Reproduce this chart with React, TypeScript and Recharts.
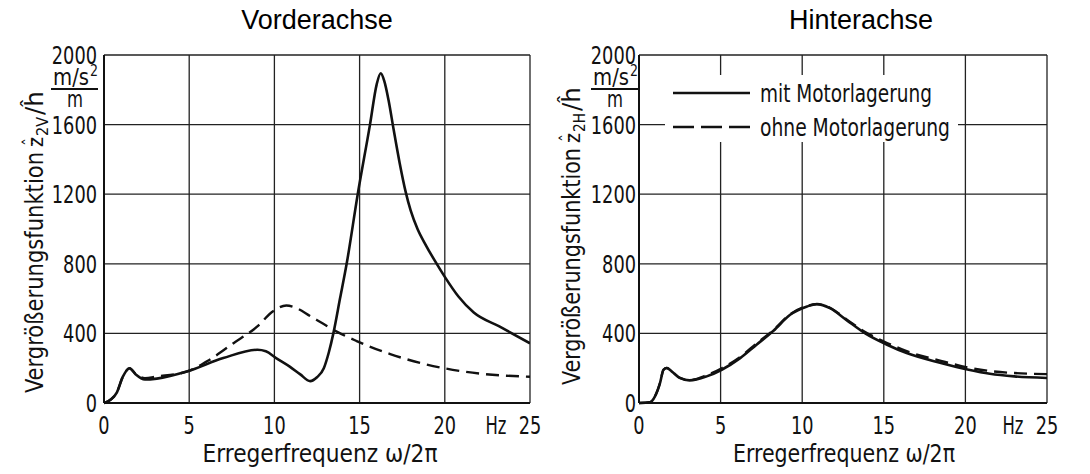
import React from 'react';
import { LineChart, Line, XAxis, YAxis, CartesianGrid, Legend } from 'recharts';

const FONT = "'DejaVu Sans Condensed', 'DejaVu Sans', sans-serif";
const TITLE_FONT = "'Liberation Sans', Arial, sans-serif";
const DIGIT_W = 11.3;

const xTicks = [0, 5, 10, 15, 20, 25];
const yTicks = [0, 400, 800, 1200, 1600, 2000];
const panelTitles = ['Vorderachse', 'Hinterachse'];
const seriesNames = ['mit Motorlagerung', 'ohne Motorlagerung'];

// Vorderachse, mit Motorlagerung
const vorderMitHz = [0, 0.4, 0.75, 1.1, 1.5, 1.85, 2.4, 3.1, 4.9, 7.0, 9.0, 9.5, 10.1, 10.9, 11.5, 12.1, 12.5, 12.9, 13.2, 13.46, 13.85, 14.24, 14.89, 15.61, 16.0, 16.24, 16.45, 16.7, 17.0, 17.35, 17.7, 18.0, 18.4, 18.9, 19.43, 20.0, 20.8, 21.7, 23.2, 25];
const vorderMitWert = [0, 20, 60, 150, 200, 165, 135, 140, 182, 258, 306, 297, 258, 209, 166, 126, 148, 200, 293, 400, 600, 800, 1200, 1600, 1830, 1895, 1850, 1740, 1570, 1380, 1215, 1105, 1000, 905, 815, 725, 612, 520, 440, 343];

// Vorderachse, ohne Motorlagerung
const vorderOhneHz = [0, 0.4, 0.75, 1.1, 1.5, 1.85, 2.4, 3.1, 4.9, 6.2, 7.6, 9.0, 9.9, 10.7, 11.3, 12.09, 12.87, 13.66, 14.83, 16.8, 17.57, 20.0, 22.25, 25];
const vorderOhneWert = [0, 20, 60, 150, 200, 168, 143, 152, 182, 249, 344, 440, 526, 560, 545, 500, 455, 410, 356, 281, 257, 199, 167, 151];

// Hinterachse, mit Motorlagerung
const hinterMitHz = [0, 0.67, 0.98, 1.29, 1.5, 1.7, 2.0, 2.5, 3.1, 4.15, 5.07, 6.2, 7.2, 8.24, 9.26, 10.3, 10.9, 11.7, 12.7, 13.86, 15.2, 16.4, 18.5, 20.2, 21.5, 23.0, 25];
const hinterMitWert = [0, 4, 38, 115, 191, 201, 182, 144, 130, 153, 191, 258, 335, 415, 507, 555, 568, 545, 478, 400, 335, 287, 230, 191, 168, 153, 144];

// Hinterachse, ohne Motorlagerung
const hinterOhneHz = [0, 0.67, 0.98, 1.29, 1.5, 1.7, 2.0, 2.5, 3.1, 4.15, 5.07, 6.2, 7.2, 8.24, 9.26, 10.3, 10.9, 11.7, 12.7, 13.86, 15.2, 16.4, 18.5, 20.2, 21.5, 23.0, 25];
const hinterOhneWert = [0, 4, 38, 115, 191, 201, 182, 144, 132, 160, 200, 265, 342, 420, 510, 557, 568, 547, 482, 408, 345, 298, 242, 203, 184, 172, 166];

const toPoints = (hz: number[], wert: number[]) => hz.map((f, i) => ({ f, wert: wert[i] }));

const Narrow = ({ w, children, ...rest }: any) => (
  <text fontFamily={FONT} fill="#111" textLength={w} lengthAdjust="spacingAndGlyphs" {...rest}>
    {children}
  </text>
);

const XTick = ({ x, y, payload }: any) => {
  const label = String(payload.value);
  return (
    <g>
      <Narrow x={x} y={y + 31} textAnchor="middle" fontSize={25} w={DIGIT_W * label.length}>
        {label}
      </Narrow>
      {payload.value === 25 && (
        <Narrow x={x - 34} y={y + 31} textAnchor="middle" fontSize={25} w={21}>
          Hz
        </Narrow>
      )}
    </g>
  );
};

const makeYTick = (gap: number) => ({ x, y, payload }: any) => {
  const label = String(payload.value);
  return (
    <Narrow x={x - gap} y={y + 9} textAnchor="end" fontSize={25} w={DIGIT_W * label.length}>
      {label}
    </Narrow>
  );
};
const YTickLeft = makeYTick(7);
const YTickRight = makeYTick(3);

const LegendBox = () => (
  <svg width={293} height={67} style={{ display: 'block', background: '#fff' }}>
    <line x1={8} x2={85} y1={18} y2={18} stroke="#111" strokeWidth={2.6} />
    <Narrow x={95} y={27} fontSize={24} w={172}>{seriesNames[0]}</Narrow>
    <line x1={8} x2={85} y1={52} y2={52} stroke="#111" strokeWidth={2.6} strokeDasharray="21 7" />
    <Narrow x={95} y={61} fontSize={24} w={190}>{seriesNames[1]}</Narrow>
  </svg>
);

type PanelProps = {
  left: number;
  margin: { top: number; right: number; bottom: number; left: number };
  mit: { f: number; wert: number }[];
  ohne: { f: number; wert: number }[];
  yTick: any;
  showLegend?: boolean;
};

const Panel = ({ left, margin, mit, ohne, yTick, showLegend }: PanelProps) => (
  <div style={{ position: 'absolute', left, top: 0 }}>
    <LineChart width={545} height={474} margin={margin}>
      <CartesianGrid stroke="#222" strokeWidth={1.3} />
      <XAxis
        type="number"
        dataKey="f"
        domain={[0, 25]}
        ticks={xTicks}
        tick={<XTick />}
        tickLine={false}
        tickSize={0}
        tickMargin={0}
        height={30}
        axisLine={{ stroke: '#111', strokeWidth: 2 }}
        allowDataOverflow
      />
      <YAxis
        type="number"
        domain={[0, 2000]}
        ticks={yTicks}
        tick={yTick}
        tickLine={false}
        tickSize={0}
        tickMargin={0}
        width={60}
        axisLine={{ stroke: '#111', strokeWidth: 2 }}
      />
      {showLegend && (
        <Legend
          layout="horizontal"
          verticalAlign="middle"
          align="center"
          wrapperStyle={{ left: 120, top: 75, width: 293, height: 67 }}
          content={() => <LegendBox />}
        />
      )}
      <Line
        data={ohne}
        dataKey="wert"
        name={seriesNames[1]}
        type="monotone"
        stroke="#111"
        strokeWidth={2.4}
        strokeDasharray="13 7"
        dot={false}
        isAnimationActive={false}
      />
      <Line
        data={mit}
        dataKey="wert"
        name={seriesNames[0]}
        type="monotone"
        stroke="#111"
        strokeWidth={2.6}
        dot={false}
        isAnimationActive={false}
      />
    </LineChart>
  </div>
);

// rotated y label: Vergrößerungsfunktion z̈̂_2x / ĥ
const YLabel = ({ x, y, len, sub }: any) => (
  <g transform={`translate(${x},${y}) rotate(-90)`}>
    <Narrow x={0} y={0} fontSize={25} w={len}>Vergrößerungsfunktion</Narrow>
    <Narrow x={len + 5} y={0} fontSize={22} w={10}>z</Narrow>
    <text x={len + 10} y={2} fontSize={18} textAnchor="middle" fontFamily={FONT} fill="#111">¨</text>
    <text x={len + 10} y={-7} fontSize={18} textAnchor="middle" fontFamily={FONT} fill="#111">ˆ</text>
    <Narrow x={len + 16} y={5} fontSize={16} w={19}>{sub}</Narrow>
    <Narrow x={len + 37} y={0} fontSize={25} w={24}>/ĥ</Narrow>
  </g>
);

const UnitFraction = ({ cx }: any) => (
  <g>
    <Narrow x={cx - 22} y={85} fontSize={23} w={36}>m/s</Narrow>
    <Narrow x={cx + 15} y={76} fontSize={16} w={8}>2</Narrow>
    <line x1={cx - 24} x2={cx + 23} y1={89} y2={89} stroke="#111" strokeWidth={2} />
    <Narrow x={cx} y={107} textAnchor="middle" fontSize={23} w={16}>m</Narrow>
  </g>
);

export default function App() {
  return (
    <div style={{ position: 'fixed', left: 0, top: 0, width: 1090, height: 474, background: '#fff', overflow: 'hidden' }}>
      <Panel
        left={0}
        margin={{ top: 55, right: 15, bottom: 41, left: 44 }}
        mit={toPoints(vorderMitHz, vorderMitWert)}
        ohne={toPoints(vorderOhneHz, vorderOhneWert)}
        yTick={<YTickLeft />}
      />
      <Panel
        left={545}
        margin={{ top: 55, right: 43, bottom: 41, left: 34 }}
        mit={toPoints(hinterMitHz, hinterMitWert)}
        ohne={toPoints(hinterOhneHz, hinterOhneWert)}
        yTick={<YTickRight />}
        showLegend
      />
      <svg width={1090} height={474} style={{ position: 'absolute', left: 0, top: 0, pointerEvents: 'none' }}>
        <text x={317} y={29} textAnchor="middle" fontFamily={TITLE_FONT} fontSize={27} fill="#000">
          {panelTitles[0]}
        </text>
        <text x={861} y={29} textAnchor="middle" fontFamily={TITLE_FONT} fontSize={27} fill="#000">
          {panelTitles[1]}
        </text>
        <YLabel x={43} y={393} len={241} sub="2V" />
        <YLabel x={580} y={385} len={237} sub="2H" />
        <UnitFraction cx={75} />
        <UnitFraction cx={615} />
        <Narrow x={320} y={462} textAnchor="middle" fontSize={24} w={235}>Erregerfrequenz ω/2π</Narrow>
        <Narrow x={844} y={462} textAnchor="middle" fontSize={24} w={222}>Erregerfrequenz ω/2π</Narrow>
      </svg>
    </div>
  );
}
